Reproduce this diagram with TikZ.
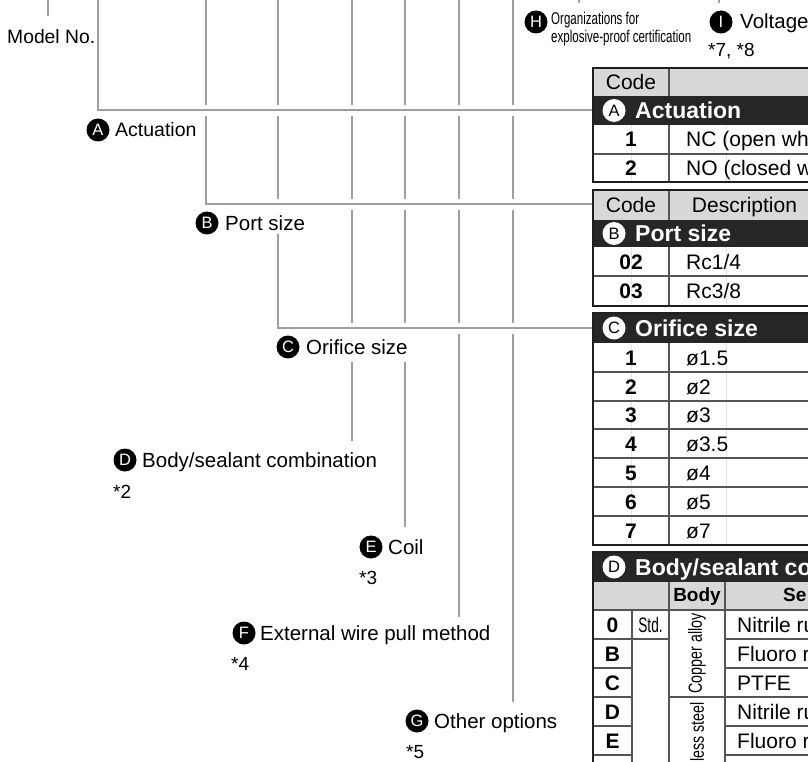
\documentclass[tikz,border=0pt]{standalone}
\usepackage{fontspec}
\usepackage{graphicx}
\setmainfont{Liberation Sans}
\usetikzlibrary{calc}
\newcommand{\fsz}[1]{\fontsize{#1}{#1}\selectfont}
\definecolor{lineg}{RGB}{158,158,158}
\definecolor{darkrow}{RGB}{38,38,38}
\definecolor{hdrg}{RGB}{216,216,216}
\definecolor{innerg}{RGB}{85,85,85}
\definecolor{frameg}{RGB}{30,30,30}
\definecolor{faintg}{RGB}{228,228,228}
\begin{document}
\begin{tikzpicture}[x=1pt,y=-1pt,
 conn/.style={draw=lineg,line width=2pt},
 casing/.style={draw=white,line width=11pt},
 lbl/.style={anchor=base west,inner sep=0pt,font=\fsz{20.5}},
 note/.style={anchor=base west,inner sep=0pt,font=\fsz{19}},
 badge/.style={circle,fill=black,text=white,inner sep=0pt,minimum size=23pt,font=\fsz{16.5}},
 wbadge/.style={circle,fill=white,text=black,inner sep=0pt,minimum size=23pt,font=\fsz{16.5}},
 tnum/.style={anchor=base,inner sep=0pt,font=\bfseries\fsz{21}},
 thd/.style={anchor=base,inner sep=0pt,font=\fsz{21}},
 ttxt/.style={anchor=base west,inner sep=0pt,font=\fsz{21}},
 sect/.style={anchor=base west,inner sep=0pt,text=white,font=\bfseries\fsz{23}},
 frame/.style={draw=frameg,line width=2.5pt},
 rule/.style={draw=innerg,line width=1.3pt},
 faint/.style={draw=faintg,line width=0.8pt},
 narrow/.style={inner sep=0pt,font=\fsz{19}}
]
\useasboundingbox (0,0) rectangle (808,762);
\clip (0,0) rectangle (808,762);

% connector targets on the tables
\coordinate (secA) at (593,110.5);
\coordinate (hdrB) at (593,204.5);
\coordinate (secC) at (593,328);

% top ends of the code lines
\coordinate (tM) at (48,0);
\coordinate (tA) at (98,0);
\coordinate (tB) at (206,0);
\coordinate (tC) at (278,0);
\coordinate (tD) at (352,0);
\coordinate (tE) at (405,0);
\coordinate (tF) at (459,0);
\coordinate (tG) at (513,0);
\coordinate (tH) at (579,0);
\coordinate (tI) at (719,0);

% lower ends
\coordinate (eM) at (48,16);
\coordinate (sC) at (278,234);
\coordinate (sD) at (352,362);
\coordinate (eD) at (352,441);
\coordinate (sE) at (405,362);
\coordinate (eE) at (405,527);
\coordinate (eF) at (459,617);
\coordinate (eG) at (513,702);

% vertical code lines
\draw[conn] (tM) -- (eM);
\draw[conn] (tH) -- ++(0,3);
\draw[conn] (tI) -- ++(0,3);
\draw[conn] (tA) |- (secA);
\draw[conn] (tB) |- (hdrB);
\draw[conn] (tC) -- ++(0,206);
\draw[conn] (sC) |- (secC);
\draw[conn] (tD) -- ++(0,330);
\draw[conn] (sD) -- (eD);
\draw[conn] (tE) -- ++(0,330);
\draw[conn] (sE) -- (eE);
\draw[conn] (tF) -- (eF);
\draw[conn] (tG) -- (eG);

% horizontal leaders with white gaps
\draw[casing] ($(tA|-secA)+(2,0)$) -- (secA);
\draw[conn] (tA|-secA) -- (secA);
\draw[casing] ($(tB|-hdrB)+(2,0)$) -- (hdrB);
\draw[conn] (tB|-hdrB) -- (hdrB);
\draw[casing] ($(tC|-secC)+(2,0)$) -- (secC);
\draw[conn] (tC|-secC) -- (secC);

% left labels
\node[lbl,font=\fsz{19.3}] (model) at (7,44) {Model No.};
\node[badge] (bA) at (98,130) {A};
\node[lbl,font=\fsz{19.5}] (lA) at (115,137) {Actuation};
\node[badge] (bB) at (207,223) {B};
\node[lbl] (lB) at (225,230) {Port size};
\node[badge] (bC) at (288,347) {C};
\node[lbl] (lC) at (306,354) {Orifice size};
\node[badge] (bD) at (125,460) {D};
\node[lbl] (lD) at (142,467) {Body/sealant combination};
\node[note] at (113,498) {*2};
\node[badge] (bE) at (371,547) {E};
\node[lbl] (lE) at (388,554) {Coil};
\node[note] at (359,584) {*3};
\node[badge] (bF) at (244,633) {F};
\node[lbl] (lF) at (260,640) {External wire pull method};
\node[note] at (231,670) {*4};
\node[badge] (bG) at (417,721) {G};
\node[lbl] (lG) at (434,728) {Other options};
\node[note] at (406,758) {*5};

% top labels
\node[badge] (bH) at (536,22) {H};
\node[anchor=base west,inner sep=0pt,font=\fsz{17}] (lH1) at (551,25) {\scalebox{0.68}[1]{Organizations for}};
\node[anchor=base west,inner sep=0pt,font=\fsz{17}] (lH2) at (551,43) {\scalebox{0.68}[1]{explosive-proof certification}};
\node[badge] (bI) at (721,22) {I};
\node[lbl] (lI) at (740,29) {Voltage};
\node[note] at (708,57) {*7, *8};

% ---------- Table A ----------
\fill[hdrg] (593,68) rectangle (815,96);
\fill[darkrow] (593,96) rectangle (815,125);
\draw[faint] (631,125) -- (631,182) (726,125) -- (726,182);
\draw[rule] (593,154) -- (815,154);
\draw[rule] (669,68) -- (669,96) (669,125) -- (669,182);
\draw[frame] (593,68) rectangle (815,182);
\node[thd] at (631,90) {Code};
\node[wbadge] at (614,110.5) {A};
\node[sect] at (635,118.5) {Actuation};
\node[tnum] at (631,147) {1};
\node[ttxt] at (686,147) {NC (open wh};
\node[tnum] at (631,176) {2};
\node[ttxt] at (686,176) {NO (closed w};

% ---------- Table B ----------
\fill[hdrg] (593,190) rectangle (815,220);
\fill[darkrow] (593,220) rectangle (815,247);
\draw[faint] (631,247) -- (631,306) (726,247) -- (726,306);
\draw[rule] (593,276) -- (815,276);
\draw[rule] (669,190) -- (669,220) (669,247) -- (669,306);
\draw[frame] (593,190) rectangle (815,306);
\node[thd] at (631,212.5) {Code};
\node[thd] at (744.5,212.5) {Description};
\node[wbadge] at (614,233.5) {B};
\node[sect] at (635,241.5) {Port size};
\node[tnum] at (631,269) {02};
\node[ttxt] at (686,269) {Rc1/4};
\node[tnum] at (631,298.5) {03};
\node[ttxt] at (686,298.5) {Rc3/8};

% ---------- Table C ----------
\fill[darkrow] (593,313) rectangle (815,343);
\draw[faint] (631,343) -- (631,545) (726,343) -- (726,545);
\foreach \y in {372,401,429,458,487,516} \draw[rule] (593,\y) -- (815,\y);
\draw[rule] (669,343) -- (669,545);
\draw[frame] (593,313) rectangle (815,545);
\node[wbadge] at (614,328) {C};
\node[sect] at (635,336) {Orifice size};
\foreach \y/\c/\t in {365/1/ø1.5,394/2/ø2,422.5/3/ø3,451/4/ø3.5,480/5/ø4,509/6/ø5,538/7/ø7}{
  \node[tnum] at (631,\y) {\c};
  \node[ttxt] at (686,\y) {\t};
}

% ---------- Table D ----------
\fill[darkrow] (593,552) rectangle (815,582);
\fill[hdrg] (593,582) rectangle (815,610);
\draw[rule] (593,610) -- (815,610);
\foreach \y in {639,668,697,726,755}{
  \draw[rule] (593,\y) -- (632,\y);
  \draw[rule] (725,\y) -- (815,\y);
}
\draw[rule] (632,639) -- (669,639);
\draw[rule] (669,697) -- (725,697);
\draw[rule] (632,610) -- (632,790);
\draw[rule] (669,582) -- (669,790);
\draw[rule] (725,582) -- (725,790);
\draw[frame] (593,552) rectangle (815,790);
\node[wbadge] at (614,567) {D};
\node[sect] at (635,575) {Body/sealant co};
\node[anchor=base,inner sep=0pt,font=\bfseries\fsz{19}] at (697,601) {Body};
\node[anchor=base west,inner sep=0pt,font=\bfseries\fsz{19}] at (783,601) {Se};
\foreach \y/\c/\t in {632/0/Nitrile ru,661/B/Fluoro r,690/C/PTFE,719/D/Nitrile ru,748/E/Fluoro r}{
  \node[tnum] at (612.5,\y) {\c};
  \node[ttxt] at (737,\y) {\t};
}
\node[anchor=base,inner sep=0pt,font=\fsz{21}] at (650.5,632) {\scalebox{0.65}[1]{Std.}};
\node[narrow,rotate=90] at (697,653.5) {\scalebox{0.75}[1]{Copper alloy}};
\node[narrow,rotate=90] at (697,748) {\scalebox{0.75}[1]{Stainless steel}};
\end{tikzpicture}
\end{document}
